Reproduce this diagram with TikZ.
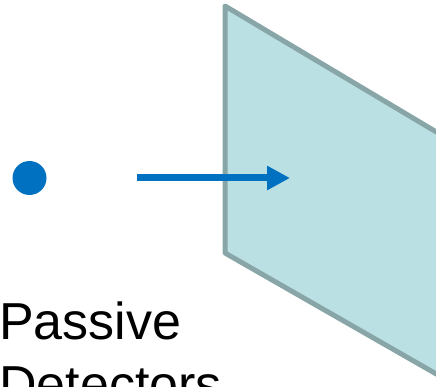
\documentclass[tikz,border=0pt]{standalone}
\usepackage{fontspec}
\setmainfont{Liberation Sans}
\usetikzlibrary{arrows.meta}
\definecolor{dotblue}{HTML}{0070C0}
\definecolor{panelfill}{HTML}{BAE0E3}
\definecolor{paneledge}{HTML}{88A5A7}
\begin{document}
\begin{tikzpicture}[x=1pt,y=-1pt,
  panel/.style={fill=panelfill,draw=paneledge,line width=5pt,line join=round},
  ray/.style={draw=dotblue,line width=7pt,-{Triangle[length=23pt,width=23pt]}},
  label/.style={font=\fontsize{52}{63}\selectfont,inner sep=0pt,anchor=base west}]
  \useasboundingbox (0,0) rectangle (436,387);
  \clip (0,0) rectangle (436,387);
  % detector plane seen at an angle
  \draw[panel] (225,6) -- (480,158) -- (480,399) -- (225,253) -- cycle;
  % source point
  \fill[dotblue] (29.5,178) circle (17);
  \coordinate (start) at (137,178);
  \coordinate (hit) at (290,178);
  \draw[ray] (start) -- (hit);
  % caption, two lines
  \node[label] (cap1) at (-1,339) {Passive};
  \node[label] (cap2) at (-1,402) {Detectors};
\end{tikzpicture}
\end{document}
